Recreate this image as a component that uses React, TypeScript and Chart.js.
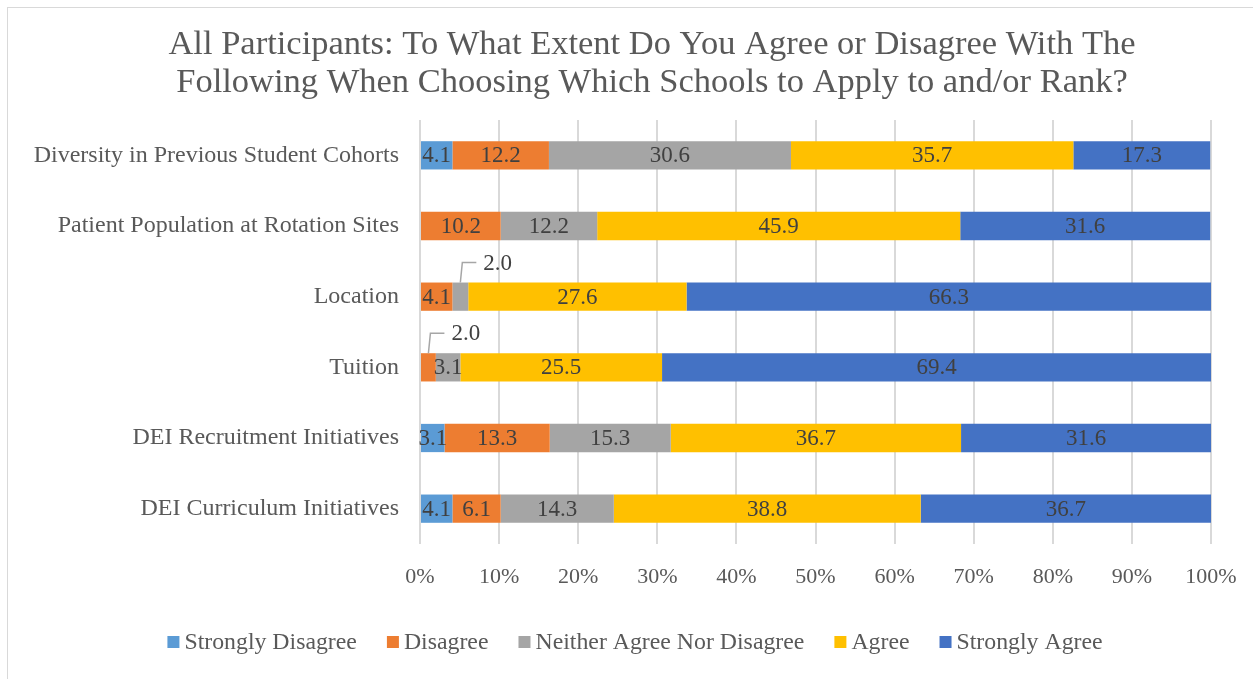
import React, { useEffect, useRef } from "react";
import { Chart, registerables } from "chart.js";

Chart.register(...registerables);

const categories = [
  "Diversity in Previous Student Cohorts",
  "Patient Population at Rotation Sites",
  "Location",
  "Tuition",
  "DEI Recruitment Initiatives",
  "DEI Curriculum Initiatives",
];

const seriesNames = [
  "Strongly Disagree",
  "Disagree",
  "Neither Agree Nor Disagree",
  "Agree",
  "Strongly Agree",
];

const stronglyDisagree = [4.1, 0, 0, 0, 3.1, 4.1];
const disagree = [12.2, 10.2, 4.1, 2.0, 13.3, 6.1];
const neither = [30.6, 12.2, 2.0, 3.1, 15.3, 14.3];
const agree = [35.7, 45.9, 27.6, 25.5, 36.7, 38.8];
const stronglyAgree = [17.3, 31.6, 66.3, 69.4, 31.6, 36.7];

const seriesColors = ["#5B9BD5", "#ED7D31", "#A5A5A5", "#FFC000", "#4472C4"];

const titleLines = [
  "All Participants: To What Extent Do You Agree or Disagree With The",
  "Following When Choosing Which Schools to Apply to and/or Rank?",
];

const xTickValues = [0, 10, 20, 30, 40, 50, 60, 70, 80, 90, 100];

const FONT = "'Liberation Serif', 'Times New Roman', serif";

const titlePlugin = {
  id: "customTitle",
  afterDraw(chart: any) {
    const ctx = chart.ctx;
    ctx.save();
    ctx.font = `34.5px ${FONT}`;
    ctx.fillStyle = "#595959";
    ctx.textAlign = "center";
    ctx.textBaseline = "middle";
    titleLines.forEach((line, i) => {
      ctx.fillText(line, 652, 45 + i * 38);
    });
    ctx.restore();
  },
};

const labelPlugin = {
  id: "segmentLabels",
  afterDatasetsDraw(chart: any) {
    const ctx = chart.ctx;
    ctx.save();
    ctx.font = `23px ${FONT}`;
    ctx.fillStyle = "#404040";
    chart.data.datasets.forEach((ds: any, di: number) => {
      const meta = chart.getDatasetMeta(di);
      meta.data.forEach((bar: any, i: number) => {
        const v = ds.data[i];
        if (!v || v <= 0) return;
        const txt = v.toFixed(1);
        const cx = (bar.x + bar.base) / 2;
        if (v < 2.5) {
          const top = bar.y - bar.height / 2;
          const ly = top - 20;
          ctx.strokeStyle = "#A6A6A6";
          ctx.lineWidth = 1.5;
          ctx.beginPath();
          ctx.moveTo(cx, top);
          ctx.lineTo(cx + 2, ly);
          ctx.lineTo(cx + 16, ly);
          ctx.stroke();
          ctx.textAlign = "left";
          ctx.textBaseline = "middle";
          ctx.fillText(txt, cx + 23, ly + 1);
        } else {
          ctx.textAlign = "center";
          ctx.textBaseline = "middle";
          ctx.fillText(txt, cx, bar.y + 1);
        }
      });
    });
    ctx.restore();
  },
};

const legendPlugin = {
  id: "customLegend",
  afterDraw(chart: any) {
    const ctx = chart.ctx;
    ctx.save();
    ctx.font = `23.8px ${FONT}`;
    ctx.textBaseline = "middle";
    ctx.textAlign = "left";
    const box = 12;
    const gapText = 5;
    const gapItem = 30;
    const widths = seriesNames.map((n) => box + gapText + ctx.measureText(n).width);
    const total = widths.reduce((a, b) => a + b, 0) + gapItem * (widths.length - 1);
    const centerX = 635;
    const y = 642;
    let x = centerX - total / 2;
    seriesNames.forEach((n, k) => {
      ctx.fillStyle = seriesColors[k];
      ctx.fillRect(x, y - box / 2, box, box);
      ctx.fillStyle = "#595959";
      ctx.fillText(n, x + box + gapText, y + 1);
      x += widths[k] + gapItem;
    });
    ctx.restore();
  },
};

export default function App() {
  const ref = useRef<HTMLCanvasElement>(null);

  useEffect(() => {
    if (!ref.current) return;
    const values = [stronglyDisagree, disagree, neither, agree, stronglyAgree];
    const chart = new Chart(ref.current, {
      type: "bar",
      data: {
        labels: categories,
        datasets: seriesNames.map((name, k) => ({
          label: name,
          data: values[k],
          backgroundColor: seriesColors[k],
          borderWidth: 0,
          barPercentage: 0.4,
          categoryPercentage: 1,
        })),
      },
      options: {
        indexAxis: "y",
        animation: false,
        responsive: false,
        maintainAspectRatio: false,
        layout: { padding: { left: 0, right: 42, top: 120, bottom: 85 } },
        scales: {
          x: {
            stacked: true,
            min: 0,
            max: 100,
            afterBuildTicks: (scale: any) => {
              scale.ticks = xTickValues.map((v) => ({ value: v }));
            },
            afterFit: (scale: any) => {
              scale.height = 50;
              scale.paddingLeft = 0;
              scale.paddingRight = 0;
            },
            border: { display: false },
            grid: { color: "#D9D9D9", lineWidth: 2, drawTicks: false },
            ticks: {
              padding: 20,
              color: "#595959",
              font: { family: FONT, size: 22 },
              callback: (v: any) => `${v}%`,
            },
          },
          y: {
            stacked: true,
            afterFit: (scale: any) => {
              scale.width = 420;
            },
            border: { display: false },
            grid: { display: false, drawTicks: false },
            ticks: {
              padding: 21,
              color: "#595959",
              font: { family: FONT, size: 24 },
            },
          },
        },
        plugins: {
          title: { display: false },
          legend: { display: false },
          tooltip: { enabled: false },
        },
      },
      plugins: [labelPlugin, legendPlugin, titlePlugin],
    } as any);
    return () => chart.destroy();
  }, []);

  return (
    <div
      style={{
        position: "fixed",
        left: 0,
        top: 0,
        width: 1253,
        height: 679,
        overflow: "hidden",
        background: "#fff",
      }}
    >
      <canvas ref={ref} width={1253} height={679} style={{ position: "absolute", left: 0, top: 0 }} />
      <div
        style={{
          position: "absolute",
          left: 7,
          top: 7,
          width: 1300,
          height: 700,
          border: "1px solid #D9D9D9",
          pointerEvents: "none",
        }}
      />
    </div>
  );
}
